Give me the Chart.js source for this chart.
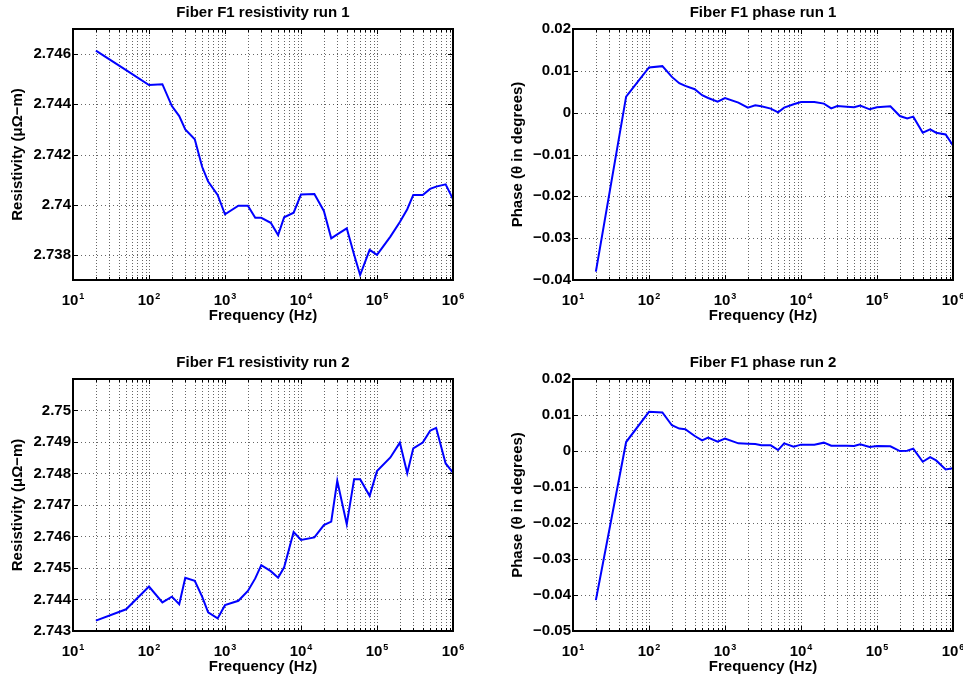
<!DOCTYPE html>
<html>
<head>
<meta charset="utf-8">
<title>Fiber F1 resistivity and phase</title>
<script src="https://cdn.jsdelivr.net/npm/chart.js@4.4.1/dist/chart.umd.min.js"></script>
<style>
  body { margin: 0; background: #fff; width: 963px; height: 677px; position: relative; overflow: hidden; }
  canvas { position: absolute; }
</style>
</head>
<body>
<canvas id="res1"></canvas>
<canvas id="phase1"></canvas>
<canvas id="res2"></canvas>
<canvas id="phase2"></canvas>
<script>
// Sweep frequencies (Hz)
const freq = [20, 50, 100, 150, 200, 250, 300, 400, 500, 600, 800,
  1000, 1500, 2000, 2500, 3000, 4000, 5000, 6000, 8000,
  10000, 15000, 20000, 25000, 30000, 40000, 50000, 60000, 80000,
  100000, 150000, 200000, 250000, 300000, 400000, 500000, 600000, 800000, 1000000];

// Resistivity (uOhm-m) and phase (degrees), runs 1 and 2
const resRun1 = [2.74614, 2.74536, 2.74477, 2.74480, 2.74393, 2.74353, 2.74300, 2.74261, 2.74151, 2.74092, 2.74039,
  2.73962, 2.73996, 2.73996, 2.73948, 2.73948, 2.73928, 2.73879, 2.73950, 2.73968,
  2.74041, 2.74043, 2.73975, 2.73866, 2.73882, 2.73906, 2.73801, 2.73720, 2.73820,
  2.73800, 2.73873, 2.73931, 2.73982, 2.74039, 2.74039, 2.74063, 2.74072, 2.74081, 2.74022];

const phaseRun1 = [-0.0380, 0.00385, 0.01081, 0.01112, 0.00855, 0.00704, 0.00639, 0.00560, 0.00416, 0.00351, 0.00265,
  0.00351, 0.00241, 0.00121, 0.00176, 0.00152, 0.00097, 0.00008, 0.00121, 0.00200,
  0.00255, 0.00255, 0.00217, 0.00104, 0.00159, 0.00140, 0.00128, 0.00169, 0.00080,
  0.00128, 0.00152, -0.00081, -0.00136, -0.00095, -0.00479, -0.00400, -0.00479, -0.00520, -0.00784];

const resRun2 = [2.74333, 2.74369, 2.74441, 2.74391, 2.74409, 2.74385, 2.74469, 2.74459, 2.74409, 2.74359, 2.74340,
  2.74382, 2.74396, 2.74427, 2.74467, 2.74509, 2.74490, 2.74469, 2.74502, 2.74614,
  2.74589, 2.74597, 2.74636, 2.74647, 2.74777, 2.74639, 2.74782, 2.74782, 2.74729,
  2.74808, 2.74851, 2.74898, 2.74801, 2.74880, 2.74898, 2.74936, 2.74945, 2.74832, 2.74803];

const phaseRun2 = [-0.04144, 0.00249, 0.01087, 0.01070, 0.00715, 0.00623, 0.00604, 0.00417, 0.00297, 0.00372, 0.00260,
  0.00344, 0.00213, 0.00204, 0.00193, 0.00157, 0.00157, 0.00026, 0.00213, 0.00121,
  0.00177, 0.00177, 0.00232, 0.00149, 0.00149, 0.00143, 0.00137, 0.00185, 0.00109,
  0.00137, 0.00129, -0.00002, 0.00009, 0.00065, -0.00298, -0.00170, -0.00262, -0.00513, -0.00477];

// Axis limits and tick values
const freqTicks = [10, 100, 1000, 10000, 100000, 1000000];
const res1Range = [2.737, 2.747];
const res1Ticks = [2.738, 2.740, 2.742, 2.744, 2.746];
const phase1Range = [-0.04, 0.02];
const phase1Ticks = [-0.04, -0.03, -0.02, -0.01, 0, 0.01, 0.02];
const res2Range = [2.743, 2.751];
const res2Ticks = [2.743, 2.744, 2.745, 2.746, 2.747, 2.748, 2.749, 2.75];
const phase2Range = [-0.05, 0.02];
const phase2Ticks = [-0.05, -0.04, -0.03, -0.02, -0.01, 0, 0.01, 0.02];

const FONT = "'Liberation Sans', Arial, Helvetica, sans-serif";
const boldFont = { family: FONT, size: 15, weight: 'bold' };

// every 1..9 x 10^n line for the minor log grid
const gridFreqs = [];
for (let e = 1; e <= 5; e++) {
  for (let m = 1; m <= 9; m++) gridFreqs.push(m * Math.pow(10, e));
}
gridFreqs.push(1000000);

// MATLAB-like box: dotted grid, inward ticks, heavy frame, title above,
// and "10" + raised exponent labels under the log axis
const matlabFrame = {
  id: 'matlabFrame',
  beforeDatasetsDraw(chart) {
    const { ctx, chartArea: a, scales: { x, y } } = chart;
    ctx.save();
    ctx.strokeStyle = 'rgba(0,0,0,0.6)';
    ctx.lineWidth = 1;
    ctx.setLineDash([1, 2]);
    ctx.beginPath();
    gridFreqs.forEach(f => {
      const px = Math.round(x.getPixelForValue(f)) + 0.5;
      ctx.moveTo(px, a.top);
      ctx.lineTo(px, a.bottom);
    });
    ctx.stroke();
    ctx.setLineDash([1, 3]);
    ctx.beginPath();
    y.ticks.forEach(t => {
      const py = Math.round(y.getPixelForValue(t.value)) + 0.5;
      ctx.moveTo(a.left, py);
      ctx.lineTo(a.right, py);
    });
    ctx.stroke();
    ctx.restore();
  },
  afterDatasetsDraw(chart, args, opts) {
    const { ctx, chartArea: a, scales: { x, y } } = chart;
    ctx.save();
    ctx.strokeStyle = '#000';
    ctx.lineWidth = 1;
    ctx.beginPath();
    gridFreqs.forEach(f => {
      const px = Math.round(x.getPixelForValue(f)) + 0.5;
      const len = freqTicks.includes(f) ? 5 : 3;
      ctx.moveTo(px, a.bottom);
      ctx.lineTo(px, a.bottom - len);
      ctx.moveTo(px, a.top);
      ctx.lineTo(px, a.top + len);
    });
    y.ticks.forEach(t => {
      const py = Math.round(y.getPixelForValue(t.value)) + 0.5;
      ctx.moveTo(a.left, py);
      ctx.lineTo(a.left + 5, py);
      ctx.moveTo(a.right, py);
      ctx.lineTo(a.right - 5, py);
    });
    ctx.stroke();
    ctx.lineWidth = 2;
    ctx.strokeRect(a.left, a.top, a.right - a.left, a.bottom - a.top);

    ctx.fillStyle = '#000';
    ctx.font = 'bold 15px ' + FONT;
    ctx.textAlign = 'center';
    ctx.textBaseline = 'middle';
    ctx.fillText(opts.title, (a.left + a.right) / 2, a.top - 16);

    // decade labels
    ctx.textAlign = 'left';
    ctx.textBaseline = 'alphabetic';
    freqTicks.forEach(f => {
      const px = x.getPixelForValue(f);
      const exp = String(Math.round(Math.log10(f)));
      ctx.font = 'bold 15px ' + FONT;
      const wBase = ctx.measureText('10').width;
      ctx.font = 'bold 9px ' + FONT;
      const wExp = ctx.measureText(exp).width;
      const x0 = px - (wBase + 1 + wExp) / 2;
      ctx.font = 'bold 15px ' + FONT;
      ctx.fillText('10', x0, a.bottom + 25);
      ctx.font = 'bold 9px ' + FONT;
      ctx.fillText(exp, x0 + wBase + 1, a.bottom + 19);
    });
    ctx.restore();
  }
};

function fmtTick(v) {
  return parseFloat(v.toFixed(4)).toString().replace('-', '\u2212');
}

function makePlot(id, box, values, range, yTicks, title, yLabel) {
  const cv = document.getElementById(id);
  const w = box.w + 73 + 12;
  const h = box.h + 100;
  cv.width = w;
  cv.height = h;
  cv.style.width = w + 'px';
  cv.style.height = h + 'px';
  cv.style.left = (box.left - 73) + 'px';
  cv.style.top = (box.top - 40) + 'px';

  new Chart(cv, {
    type: 'line',
    data: {
      datasets: [{
        data: freq.map((f, i) => ({ x: f, y: values[i] })),
        borderColor: '#0000ff',
        borderWidth: 2,
        pointRadius: 0,
        tension: 0,
        fill: false
      }]
    },
    options: {
      responsive: false,
      animation: false,
      devicePixelRatio: 1,
      layout: { padding: { top: 40, right: 12, left: 0, bottom: 0 } },
      plugins: {
        legend: { display: false },
        tooltip: { enabled: false },
        matlabFrame: { title: title }
      },
      scales: {
        x: {
          type: 'logarithmic',
          position: 'bottom',
          min: 10,
          max: 1000000,
          grid: { display: false, drawTicks: false },
          border: { display: false },
          afterBuildTicks: s => { s.ticks = freqTicks.map(v => ({ value: v })); },
          ticks: { display: false },
          title: { display: true, text: 'Frequency (Hz)', color: '#000', font: boldFont, padding: { top: 0, bottom: 15 } },
          afterFit: s => {
            s.height = 60;
            s.paddingLeft = 0;
            s.paddingRight = 0;
          }
        },
        y: {
          type: 'linear',
          min: range[0],
          max: range[1],
          grid: { display: false, drawTicks: false },
          border: { display: false },
          afterBuildTicks: s => { s.ticks = yTicks.map(v => ({ value: v })); },
          ticks: { padding: 2, color: '#000', font: boldFont, callback: v => fmtTick(v) },
          title: { display: true, text: yLabel, color: '#000', font: boldFont, padding: { top: 9, bottom: 0 } },
          afterFit: s => {
            s.width = 73;
            s.paddingTop = 0;
            s.paddingBottom = 0;
          }
        }
      }
    },
    plugins: [matlabFrame]
  });
}

makePlot('res1', { left: 73, top: 29, w: 380, h: 251 }, resRun1, res1Range, res1Ticks,
  'Fiber F1 resistivity run 1', 'Resistivity (\u03bc\u03a9\u2212m)');
makePlot('phase1', { left: 573, top: 29, w: 380, h: 251 }, phaseRun1, phase1Range, phase1Ticks,
  'Fiber F1 phase run 1', 'Phase (\u03b8 in degrees)');
makePlot('res2', { left: 73, top: 379, w: 380, h: 252 }, resRun2, res2Range, res2Ticks,
  'Fiber F1 resistivity run 2', 'Resistivity (\u03bc\u03a9\u2212m)');
makePlot('phase2', { left: 573, top: 379, w: 380, h: 252 }, phaseRun2, phase2Range, phase2Ticks,
  'Fiber F1 phase run 2', 'Phase (\u03b8 in degrees)');
</script>
</body>
</html>
